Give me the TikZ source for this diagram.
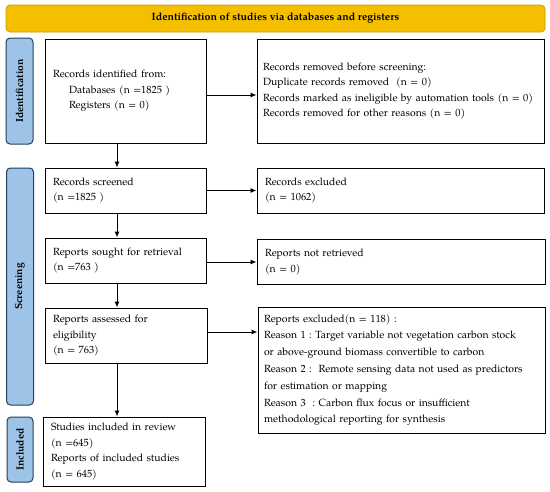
\documentclass[tikz,border=0pt]{standalone}
\usepackage{fontspec}
\setmainfont{TeX Gyre Pagella}
\usetikzlibrary{arrows.meta}
\definecolor{hdr}{HTML}{F5BF00}
\definecolor{hdrb}{HTML}{C89B00}
\definecolor{side}{HTML}{9DC3E6}
\definecolor{sideb}{HTML}{253E5E}
\begin{document}
\begin{tikzpicture}[x=1pt,y=-1pt,
  box/.style={draw=black,line width=1pt,fill=white,align=left,inner xsep=8pt,inner ysep=0pt,
    font=\fontsize{10.4}{15.5}\selectfont},
  bar/.style={draw=sideb,line width=1pt,fill=side,rounded corners=4pt,rotate=90,
    font=\bfseries\fontsize{10.3}{11}\selectfont,inner sep=0pt},
  arr/.style={line width=1pt,-{Latex[length=6pt,width=5pt]}}]
\useasboundingbox[fill=white] (0,0) rectangle (550,491);
% header
\node[draw=hdrb,line width=0.8pt,fill=hdr,rounded corners=4pt,minimum width=539pt,minimum height=27pt,
  font=\bfseries\fontsize{10.6}{12}\selectfont] (hdr) at (275.5,18.5)
  {Identification of studies via databases and registers};
% side bars
\node[bar,minimum width=106pt,minimum height=27pt] (idbar) at (19.5,91) {Identification};
\node[bar,minimum width=237pt,minimum height=27pt] (scbar) at (20,286.5) {Screening};
\node[bar,minimum width=65pt,minimum height=26pt] (inbar) at (20,449.5) {Included};
% boxes
\node[box,minimum width=161pt,text width=145pt,minimum height=104pt] (ident) at (125.5,91)
  {Records identified from:\\\hspace*{16pt}Databases (n =1825 )\\\hspace*{16pt}Registers (n = 0)};
\node[box,minimum width=287pt,text width=275pt,inner xsep=6pt,minimum height=104pt] (removed) at (400.5,91)
  {Records removed before screening:\\Duplicate records removed\ \ (n = 0)\\Records marked as ineligible by automation tools (n = 0)\\Records removed for other reasons (n = 0)};
\node[box,minimum width=161pt,text width=145pt,minimum height=45pt] (screened) at (125.5,190.5)
  {Records screened\\(n =1825 )};
\node[box,minimum width=287pt,text width=271pt,minimum height=45pt] (excluded) at (400.5,190.5)
  {Records excluded\\(n = 1062)};
\node[box,minimum width=161pt,text width=145pt,minimum height=45pt] (sought) at (125.5,260.5)
  {Reports sought for retrieval\\(n =763 )};
\node[box,minimum width=288pt,text width=272pt,minimum height=45pt] (notret) at (401,262)
  {Reports not retrieved\\(n = 0)};
\node[box,minimum width=162pt,text width=146pt,minimum height=55pt] (assessed) at (126,335.5)
  {Reports assessed for\\eligibility\\(n = 763)};
\node[box,minimum width=287pt,text width=275pt,inner xsep=6pt,minimum height=126pt,
  font=\fontsize{10.4}{16.8}\selectfont] (repex) at (401.5,370)
  {Reports excluded(n = 118) :\\
   Reason 1 :\ Target variable not vegetation carbon stock\\
   or above-ground biomass convertible to carbon\\
   Reason 2 :\ \ Remote sensing data not used as predictors\\
   for estimation or mapping\\
   Reason 3\ \ :\ Carbon flux focus or insufficient\\
   methodological reporting for synthesis};
\node[box,minimum width=162pt,text width=146pt,minimum height=69pt] (studies) at (124,451.5)
  {Studies included in review\\(n =645)\\Reports of included studies\\(n = 645)};
% arrows
\draw[arr] ([yshift=-4pt]ident.east) -- ([yshift=-4pt]ident.east -| removed.west);
\draw[arr] ([xshift=-8.5pt]ident.south) -- ([xshift=-8.5pt]ident.south |- screened.north);
\draw[arr] (screened.east) -- (screened.east -| excluded.west);
\draw[arr] ([yshift=-1.5pt]sought.east) -- ([yshift=-1.5pt]sought.east -| notret.west);
\draw[arr] ([xshift=-8.5pt]screened.south) -- ([xshift=-8.5pt]screened.south |- sought.north);
\draw[arr] ([xshift=-8.5pt]sought.south) -- ([xshift=-8.5pt]sought.south |- assessed.north);
\draw[arr] ([yshift=3.5pt]assessed.east) -- ([yshift=3.5pt]assessed.east -| repex.west);
\draw[arr] ([xshift=-9pt]assessed.south) -- ([xshift=-9pt]assessed.south |- studies.north);
\end{tikzpicture}
\end{document}
